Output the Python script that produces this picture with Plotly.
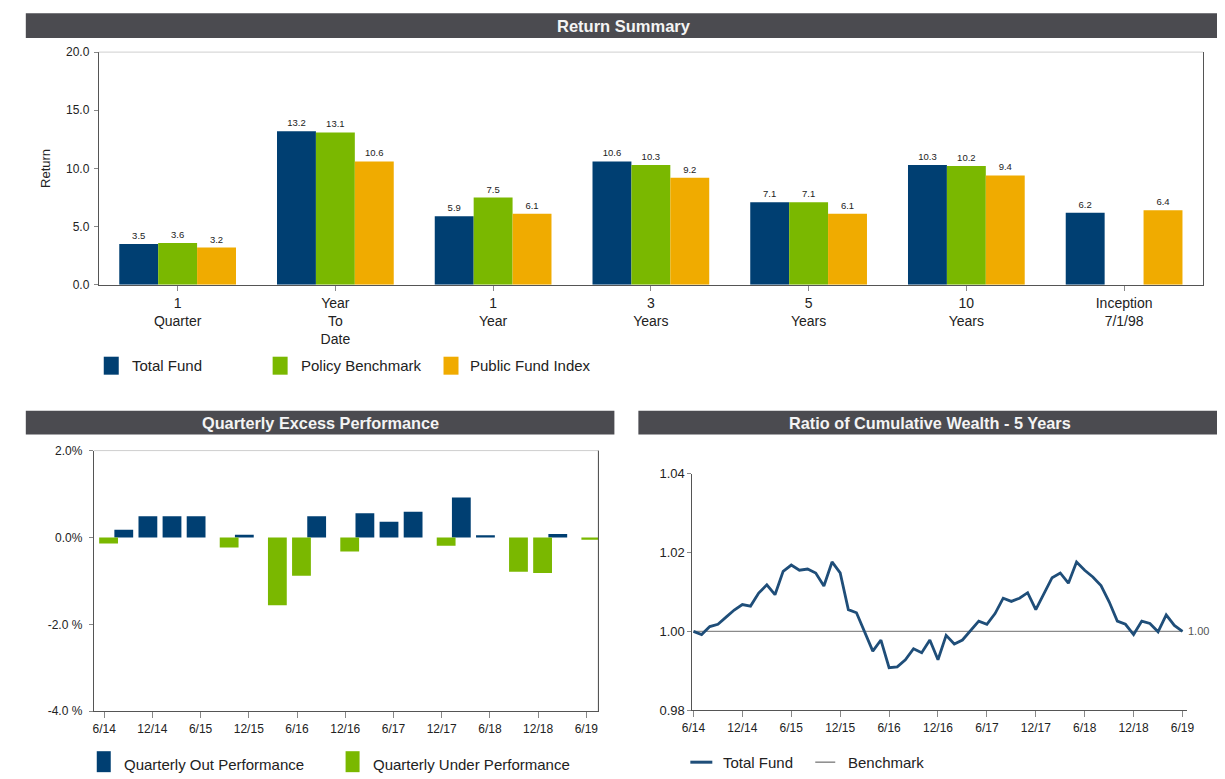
import plotly.graph_objects as go

# figure size; the browser adds its default 8px body margin
W, H = 1225, 779
M = 8
# empirically measured mapping between page pixels and the photographed picture
SX, OX = 0.986, 10.3
SY, OY = 0.982, 7.0

# ---------------- data ----------------
periods = ["1<br>Quarter", "Year<br>To<br>Date", "1<br>Year", "3<br>Years",
           "5<br>Years", "10<br>Years", "Inception<br>7/1/98"]
total_fund = [3.5, 13.2, 5.9, 10.6, 7.1, 10.3, 6.2]
policy_benchmark = [3.6, 13.1, 7.5, 10.3, 7.1, 10.2, None]
public_fund_index = [3.2, 10.6, 6.1, 9.2, 6.1, 9.4, 6.4]

quarters = ["6/14", "9/14", "12/14", "3/15", "6/15", "9/15", "12/15", "3/16",
            "6/16", "9/16", "12/16", "3/17", "6/17", "9/17", "12/17", "3/18",
            "6/18", "9/18", "12/18", "3/19", "6/19"]
excess = [-0.14, 0.18, 0.49, 0.49, 0.49, -0.23, 0.06, -1.56, -0.88, 0.49, -0.32,
          0.56, 0.36, 0.59, -0.19, 0.92, 0.05, -0.79, -0.82, 0.08, -0.05]
excess_ticks = [2, 0, -2, -4]
excess_tick_text = ["2.0%", "0.0%", "-2.0 %", "-4.0 %"]

months = []
for yy in range(14, 20):
    for mm in range(1, 13):
        if (yy == 14 and mm < 6) or (yy == 19 and mm > 6):
            continue
        months.append(f"{mm}/{yy}")
wealth_ticks = ["6/14", "12/14", "6/15", "12/15", "6/16", "12/16", "6/17",
                "12/17", "6/18", "12/18", "6/19"]
total_fund_wealth = [
    1.0000, 0.9992, 1.0012, 1.0018, 1.0036, 1.0054, 1.0068, 1.0064, 1.0097, 1.0118,
    1.0093, 1.0152, 1.0168, 1.0155, 1.0158, 1.0148, 1.0115, 1.0176, 1.0148, 1.0055,
    1.0047, 0.9996, 0.9950, 0.9978, 0.9908, 0.9910, 0.9928, 0.9956, 0.9946, 0.9978,
    0.9928, 0.9990, 0.9968, 0.9978, 1.0003, 1.0026, 1.0018, 1.0045, 1.0084, 1.0076,
    1.0084, 1.0098, 1.0055, 1.0095, 1.0136, 1.0148, 1.0122, 1.0176, 1.0155, 1.0138,
    1.0116, 1.0075, 1.0026, 1.0018, 0.9992, 1.0026, 1.0020, 0.9999, 1.0042, 1.0015,
    1.0000]
benchmark_wealth = [1.00] * len(months)

# ---------------- style ----------------
NAVY = "#003f72"
GREEN = "#7ab800"
ORANGE = "#f0ab00"
LINE_NAVY = "#1f4e79"
BAR_BG = "#4b4b50"
TXT = "#222222"
FONT = "Liberation Sans, Arial, sans-serif"


def px(x):
    return ((x - OX) / SX - M) / W


def py(y):
    return 1 - ((y - OY) / SY - M) / H


fig = go.Figure()

# ---- Return summary ----
for name, vals, col in [("Total Fund", total_fund, NAVY),
                        ("Policy Benchmark", policy_benchmark, GREEN),
                        ("Public Fund Index", public_fund_index, ORANGE)]:
    fig.add_trace(go.Bar(
        x=periods, y=vals, name=name, marker=dict(color=col, line=dict(width=0)),
        texttemplate="%{y:.1f}", textposition="outside",
        textfont=dict(size=9.5, color=TXT), cliponaxis=False,
        xaxis="x", yaxis="y", showlegend=False))

# ---- Quarterly excess ----
out_perf = [v if v > 0 else None for v in excess]
under_perf = [v if v < 0 else None for v in excess]
fig.add_trace(go.Bar(x=quarters, y=out_perf, marker=dict(color=NAVY, line=dict(width=0)),
                     xaxis="x2", yaxis="y2", showlegend=False, width=0.78))
fig.add_trace(go.Bar(x=quarters, y=under_perf, marker=dict(color=GREEN, line=dict(width=0)),
                     xaxis="x2", yaxis="y2", showlegend=False, width=0.78))

# ---- Cumulative wealth ----
fig.add_trace(go.Scatter(x=months, y=benchmark_wealth, mode="lines",
                         line=dict(color="#8a8a8a", width=1.2),
                         xaxis="x3", yaxis="y3", showlegend=False))
fig.add_trace(go.Scatter(x=months, y=total_fund_wealth, mode="lines",
                         line=dict(color=LINE_NAVY, width=2.8),
                         xaxis="x3", yaxis="y3", showlegend=False))

axis_common = dict(showgrid=False, zeroline=False, showline=True, linecolor="#555",
                   linewidth=1, ticks="outside", tickcolor="#888",
                   tickfont=dict(size=12, color=TXT))

fig.update_layout(
    width=W, height=H, margin=dict(l=0, r=0, t=0, b=0),
    paper_bgcolor="white", plot_bgcolor="white",
    font=dict(family=FONT, color=TXT),
    barmode="group", bargap=0.26, bargroupgap=0,
    xaxis=dict(axis_common, domain=[px(98), px(1203)], anchor="y", type="category",
               ticklen=5, tickfont=dict(size=14, color=TXT)),
    yaxis=dict(axis_common, domain=[py(285), py(52)], anchor="x", range=[0, 20], dtick=5,
               tickformat=".1f", ticklen=4, mirror=True, ticklabelstandoff=2,
               title=dict(text="Return", font=dict(size=13, color=TXT), standoff=12)),
    xaxis2=dict(axis_common, domain=[px(93), px(598)], anchor="y2", type="category",
                range=[-0.43, 20.5], tickvals=quarters[::2], ticklen=6,
                tickfont=dict(size=12, color=TXT)),
    yaxis2=dict(axis_common, domain=[py(712), py(451)], anchor="x2", range=[-4, 2],
                tickvals=excess_ticks, ticktext=excess_tick_text, ticklen=4, mirror=True,
                ticklabelstandoff=4),
    xaxis3=dict(axis_common, domain=[px(692), px(1187)], anchor="y3", type="category",
                range=[-0.14, 60.55], tickvals=wealth_ticks, ticklen=6,
                tickfont=dict(size=12, color=TXT)),
    yaxis3=dict(axis_common, domain=[py(711), py(474)], anchor="x3", range=[0.98, 1.04],
                dtick=0.02, tickformat=".2f", ticklen=4, tickfont=dict(size=13, color=TXT)),
)

shapes = []
annotations = []

# faint page border line at top
shapes.append(dict(type="line", xref="paper", yref="paper", x0=0, x1=1, y0=py(4), y1=py(4),
                   line=dict(color="#e6e6e6", width=1)))

# title bars
for (x0, x1, y0, y1, text, size) in [
        (25, 1222, 13, 38, "Return Summary", 16.5),
        (25, 614, 411, 435, "Quarterly Excess Performance", 16.3),
        (638, 1222, 411, 435, "Ratio of Cumulative Wealth - 5 Years", 16.3)]:
    shapes.append(dict(type="rect", xref="paper", yref="paper", x0=px(x0), x1=px(x1),
                       y0=py(y1), y1=py(y0), fillcolor=BAR_BG, line=dict(width=0), layer="below"))
    annotations.append(dict(xref="paper", yref="paper", x=px((x0 + x1) / 2), y=py((y0 + y1) / 2),
                            text=f"<b>{text}</b>", showarrow=False,
                            font=dict(size=size, color="#f4f4f4"), xanchor="center", yanchor="middle"))

# light top frame lines for the boxed charts
for xr, yr in [("x domain", "y domain"), ("x2 domain", "y2 domain")]:
    shapes.append(dict(type="line", xref=xr, yref=yr, x0=0, x1=1, y0=1, y1=1,
                       line=dict(color="#cfcfcf", width=1)))
shapes.append(dict(type="line", xref="x2 domain", yref="y2 domain", x0=1, x1=1, y0=0, y1=1,
                   line=dict(color="#555", width=1)))


# legends
def sw_rect(x0, x1, y0, y1, color):
    shapes.append(dict(type="rect", xref="paper", yref="paper", x0=px(x0), x1=px(x1),
                       y0=py(y1), y1=py(y0), fillcolor=color, line=dict(width=0)))


def leg_text(x, y, text, size=15):
    annotations.append(dict(xref="paper", yref="paper", x=px(x), y=py(y), text=text,
                            showarrow=False, xanchor="left", yanchor="middle",
                            font=dict(size=size, color=TXT)))


sw_rect(103, 118, 357, 375, NAVY); leg_text(129, 366, "Total Fund")
sw_rect(272, 287, 357, 375, GREEN); leg_text(298, 366, "Policy Benchmark")
sw_rect(443, 458, 357, 375, ORANGE); leg_text(468, 366, "Public Fund Index")

sw_rect(96, 110, 752, 773, NAVY); leg_text(121, 765, "Quarterly Out Performance")
sw_rect(345, 359, 752, 773, GREEN); leg_text(370, 765, "Quarterly Under Performance")

shapes.append(dict(type="line", xref="paper", yref="paper", x0=px(690), x1=px(712),
                   y0=py(763), y1=py(763), line=dict(color=LINE_NAVY, width=3)))
leg_text(721, 763, "Total Fund")
shapes.append(dict(type="line", xref="paper", yref="paper", x0=px(815), x1=px(835),
                   y0=py(763), y1=py(763), line=dict(color="#8a8a8a", width=1.5)))
leg_text(846, 763, "Benchmark")

# end label on benchmark
annotations.append(dict(xref="x3", yref="y3", x=months[-1], y=benchmark_wealth[-1],
                        text=f"{benchmark_wealth[-1]:.2f}", showarrow=False, xanchor="left",
                        yanchor="middle", xshift=3, font=dict(size=11, color="#555")))

fig.update_layout(shapes=shapes, annotations=annotations)
fig.write_html("out.html")
